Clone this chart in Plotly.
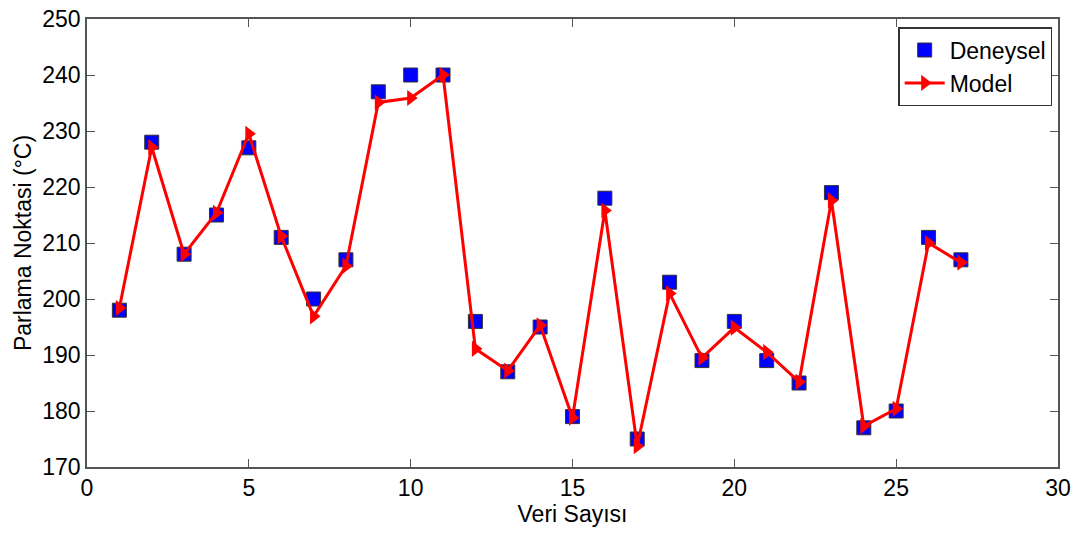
import plotly.graph_objects as go

veri = list(range(1, 28))
deneysel = [198, 228, 208, 215, 227, 211, 200, 207, 237, 240, 240, 196, 187, 195,
            179, 218, 175, 203, 189, 196, 189, 185, 219, 177, 180, 211, 207]
model = [198.4, 227.1, 208.0, 215.4, 229.5, 211.2, 196.9, 205.9, 235.1, 235.9, 240.0,
         191.1, 187.2, 195.3, 178.8, 215.8, 173.7, 201.0, 189.5, 194.9, 190.5, 185.2,
         217.6, 177.3, 180.4, 210.0, 206.5]
x_ticks = [0, 5, 10, 15, 20, 25, 30]
y_ticks = [170, 180, 190, 200, 210, 220, 230, 240, 250]

FONT = "Liberation Sans, Arial"

fig = go.Figure()
fig.add_trace(go.Scatter(
    x=veri, y=deneysel, mode="markers", name="Deneysel",
    marker=dict(symbol="square", size=14, color="#0000ff",
                line=dict(color="#333333", width=1)),
))
fig.add_trace(go.Scatter(
    x=veri, y=model, mode="lines+markers", name="Model",
    line=dict(color="#ff0000", width=3),
    marker=dict(symbol="triangle-right", size=14, color="#ff0000"),
))

axis_common = dict(
    showgrid=False, zeroline=False, showline=True, linecolor="#555555",
    linewidth=1.5, mirror="ticks", ticks="inside", ticklen=8, tickcolor="#555555",
    tickfont=dict(family=FONT, size=23, color="black"), automargin=False,
    ticklabeloverflow="allow",
)
fig.update_layout(
    width=1071, height=525,
    paper_bgcolor="white", plot_bgcolor="white",
    margin=dict(l=79, r=21, t=11, b=66),
    font=dict(family=FONT, color="black"),
    xaxis=dict(range=[0, 30], tickvals=x_ticks,
               title=dict(text="Veri Sayısı", font=dict(size=23), standoff=0),
               **axis_common),
    yaxis=dict(range=[170, 250], tickvals=y_ticks,
               title=dict(text="Parlama Noktasi (°C)", font=dict(size=23), standoff=4),
               **axis_common),
    legend=dict(x=0.994, y=0.982, xanchor="right", yanchor="top",
                bgcolor="white", bordercolor="#333333", borderwidth=1.5,
                font=dict(size=23, family=FONT),
                itemwidth=40, tracegroupgap=0),
    showlegend=True,
)
fig.write_html("out.html")
